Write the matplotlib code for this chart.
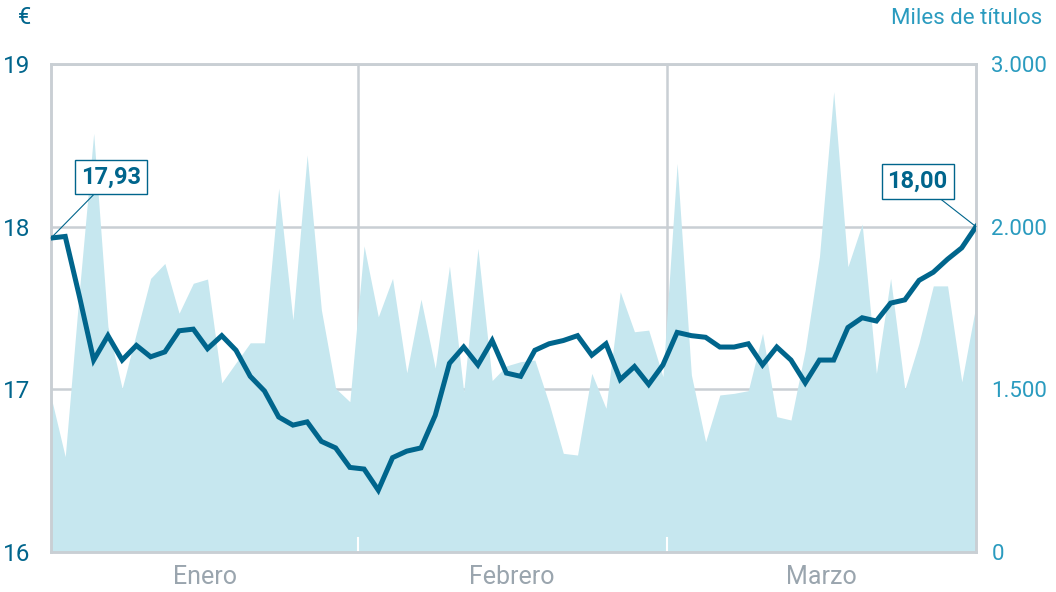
import numpy as np
import matplotlib.pyplot as plt

plt.rcParams['font.family'] = ['Roboto', 'DejaVu Sans']

# Daily closing price (EUR), Jan-Mar
price = [17.93, 17.94, 17.57, 17.18, 17.33, 17.18, 17.27, 17.20, 17.23, 17.36,
         17.37, 17.25, 17.33, 17.24, 17.08, 16.99, 16.83, 16.78, 16.80, 16.68,
         16.64, 16.52, 16.51, 16.38, 16.58, 16.62, 16.64, 16.84, 17.16, 17.26,
         17.15, 17.30, 17.10, 17.08, 17.24, 17.28, 17.30, 17.33, 17.21, 17.28,
         17.06, 17.14, 17.03, 17.15, 17.35, 17.33, 17.32, 17.26, 17.26, 17.28,
         17.15, 17.26, 17.18, 17.04, 17.18, 17.18, 17.38, 17.44, 17.42, 17.53,
         17.55, 17.67, 17.72, 17.80, 17.87, 18.00]

# Daily volume (thousands of shares)
volume = [1432, 879, 1805, 2574, 1693, 1503, 1673, 1841, 1887, 1734,
          1826, 1839, 1520, 1582, 1643, 1643, 2236, 1713, 2441, 1744,
          1503, 1386, 1941, 1723, 1841, 1551, 1777, 1565, 1879, 1478,
          1933, 1527, 1572, 1585, 1590, 1371, 910, 894, 1549, 1325,
          1800, 1677, 1682, 1539, 2389, 1544, 1017, 1448, 1463, 1488,
          1672, 1248, 1217, 1621, 1908, 2830, 1877, 2016, 1549, 1841,
          1500, 1643, 1818, 1818, 1523, 1759]

months = ['Enero', 'Febrero', 'Marzo']
month_centers = [10.8, 32.4, 54.1]
month_bounds = [21.6, 43.26]

price_ticks = [16, 17, 18, 19]
vol_ticks = [0, 1500, 2000, 3000]
vol_labels = ['0', '1.500', '2.000', '3.000']

dark = '#00658c'
light = '#2a9bbf'
area = '#c6e7ef'
grid = '#c9cfd4'
gray = '#9aa5ae'

x = np.arange(len(price))

fig = plt.figure(figsize=(10.56, 5.92), dpi=100)
ax_v = fig.add_axes([51 / 1056, 40 / 592, 925 / 1056, 488 / 592])
ax_p = ax_v.twinx()

# volume on a piecewise scale so its ticks sit on the price gridlines
fwd = lambda v: np.interp(v, vol_ticks, [0, 1, 2, 3])
inv = lambda s: np.interp(s, [0, 1, 2, 3], vol_ticks)
ax_v.set_yscale('function', functions=(fwd, inv))
ax_v.set_ylim(0, 3000)
ax_v.set_xlim(0, len(price) - 1)

ax_v.fill_between(x, 0, volume, color=area, lw=0, zorder=2)
ax_v.set_yticks(vol_ticks)
ax_v.set_yticklabels(vol_labels)
ax_v.yaxis.tick_right()
ax_v.tick_params(axis='y', length=0, pad=11, labelsize=16, labelcolor=light)
ax_v.grid(axis='y', color=grid, lw=1.8, zorder=0)
ax_v.set_axisbelow(True)
for b in month_bounds:
    ax_v.axvline(b, color=grid, lw=1.8, zorder=1)
    ax_v.axvline(b, ymin=0, ymax=0.028, color='white', lw=1.5, zorder=3)

ax_v.set_xticks(month_centers)
ax_v.set_xticklabels(months)
ax_v.tick_params(axis='x', length=0, pad=9, labelsize=18, labelcolor=gray)

ax_p.plot(x, price, color=dark, lw=3.6, solid_joinstyle='miter', zorder=5)
ax_p.set_ylim(16, 19)
ax_p.set_yticks(price_ticks)
ax_p.yaxis.tick_left()
ax_p.tick_params(axis='y', length=0, pad=15, labelsize=17.5, labelcolor=dark)

for a in (ax_v, ax_p):
    for s in a.spines.values():
        s.set_color(grid)
        s.set_linewidth(1.8)
        s.set_zorder(4)

box = dict(boxstyle='square,pad=0.25', fc='white', ec=dark, lw=1.0)
arrow = dict(arrowstyle='-', color=dark, lw=0.8, shrinkA=0, shrinkB=0)
ax_p.annotate('17,93', xy=(0, price[0]), xytext=(4.21, 18.305),
              ha='center', va='center', fontsize=17, fontweight='bold',
              color=dark, bbox=box, arrowprops=arrow, zorder=6)
ax_p.annotate('18,00', xy=(len(price) - 1, price[-1]), xytext=(60.9, 18.28),
              ha='center', va='center', fontsize=17, fontweight='bold',
              color=dark, bbox=box, arrowprops=arrow, zorder=6)

fig.text(25 / 1056, 1 - 18 / 592, '€', color=dark, fontsize=17,
         ha='center', va='center')
fig.text(1042 / 1056, 1 - 18 / 592, 'Miles de títulos', color=light,
         fontsize=16, ha='right', va='center')

fig.savefig('out.png', dpi=100)
